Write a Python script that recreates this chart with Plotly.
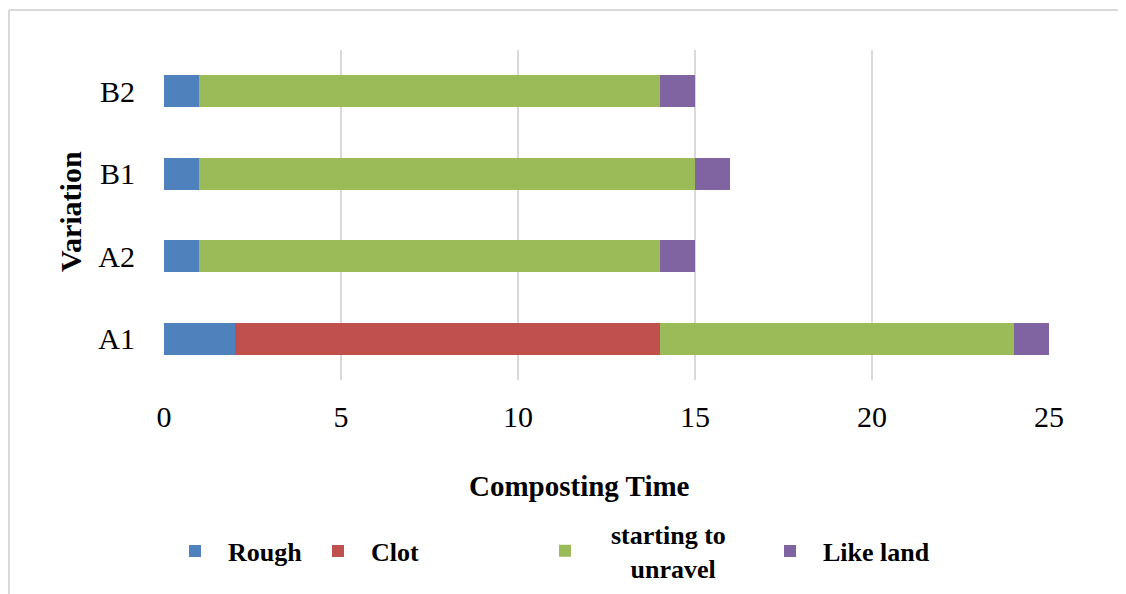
import plotly.graph_objects as go

categories = ["A1", "A2", "B1", "B2"]
rough = [2, 1, 1, 1]
clot = [12, 0, 0, 0]
unravel = [10, 13, 14, 13]
like_land = [1, 1, 1, 1]
x_ticks = [0, 5, 10, 15, 20, 25]
x_title = "Composting Time"
y_title = "Variation"

NB = "&nbsp;"
series = [
    ("Rough", NB * 2 + "Rough", rough, "#4F81BD", "legend"),
    ("Clot", NB * 2 + "Clot", clot, "#C0504D", "legend2"),
    ("starting to unravel", NB * 4 + "starting to<br>" + NB * 7 + "unravel", unravel, "#9BBB59", "legend3"),
    ("Like land", NB * 2 + "Like land", like_land, "#8064A2", "legend4"),
]

FONT = "Liberation Serif, Times New Roman, serif"
# page body has an 8px margin, so the figure is drawn 8px in from the window edge
OFF = 8
W, H = 1126 - OFF, 594 - OFF
L, R, T, B = 156, 77, 42, 214

fig = go.Figure()
for _, label, vals, color, lg in series:
    fig.add_trace(go.Bar(
        y=categories, x=vals, name=label, orientation="h",
        marker=dict(color=color, line=dict(width=0)),
        legend=lg,
    ))

def px2paper_x(px):
    return (px - L) / (W - L - R)

def px2paper_y(py):
    return (H - B - py) / (H - T - B)

legend_common = dict(
    orientation="h", xref="container", yref="container",
    xanchor="left", yanchor="middle",
    font=dict(family=FONT, size=26, color="#000000", weight="bold"),
    bgcolor="rgba(0,0,0,0)", itemwidth=30,
)
legend_px = {"legend": 167, "legend2": 310, "legend3": 537, "legend4": 762}
layout_legends = {}
for key, lx in legend_px.items():
    d = dict(legend_common)
    d["x"] = lx / W
    d["y"] = 1 - (551 - OFF) / H
    layout_legends[key] = d

fig.update_layout(
    width=W, height=H,
    margin=dict(l=L, r=R, t=T, b=B, autoexpand=False),
    barmode="stack",
    bargap=0.61,
    plot_bgcolor="white",
    paper_bgcolor="white",
    font=dict(family=FONT, color="#000000"),
    showlegend=True,
    xaxis=dict(
        range=[0, 25], tickvals=x_ticks, ticktext=[str(v) for v in x_ticks],
        showgrid=True, gridcolor="#D9D9D9", gridwidth=2,
        zeroline=False, showline=False,
        tickfont=dict(family=FONT, size=30, color="#000000"),
        ticklabelstandoff=16,
        fixedrange=True,
    ),
    yaxis=dict(
        type="category", categoryorder="array", categoryarray=categories,
        range=[-0.5, 3.5], showgrid=False, zeroline=False, showline=False,
        tickfont=dict(family=FONT, size=30, color="#000000"),
        ticklabelstandoff=28,
        fixedrange=True,
    ),
    annotations=[
        dict(text="<b>" + x_title + "</b>", xref="paper", yref="paper",
             x=px2paper_x(579.5 - OFF), y=px2paper_y(486 - OFF),
             xanchor="center", yanchor="middle", showarrow=False,
             font=dict(family=FONT, size=29, color="#000000")),
        dict(text="<b>" + y_title + "</b>", xref="paper", yref="paper",
             x=px2paper_x(70 - OFF), y=px2paper_y(212 - OFF), textangle=-90,
             xanchor="center", yanchor="middle", showarrow=False,
             font=dict(family=FONT, size=30, color="#000000")),
    ],
    shapes=[
        dict(type="line", xref="paper", yref="paper",
             x0=px2paper_x(1), x1=px2paper_x(1), y0=px2paper_y(2), y1=px2paper_y(H + 10),
             line=dict(color="#D9D9D9", width=2)),
        dict(type="line", xref="paper", yref="paper",
             x0=px2paper_x(1), x1=px2paper_x(W + 10), y0=px2paper_y(2), y1=px2paper_y(2),
             line=dict(color="#D9D9D9", width=2)),
    ],
    **layout_legends,
)

fig.write_html("out.html")
